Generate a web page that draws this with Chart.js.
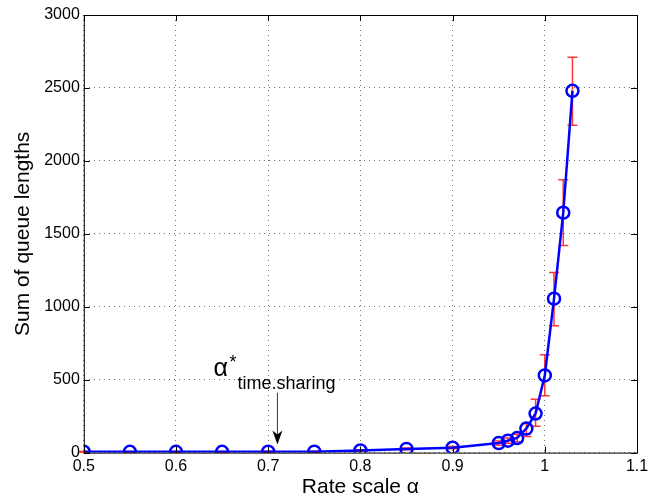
<!DOCTYPE html>
<html>
<head>
<meta charset="utf-8">
<script src="https://cdn.jsdelivr.net/npm/chart.js@4.4.1/dist/chart.umd.min.js"></script>
<style>
    html, body { margin: 0; padding: 0; background: #fff; }
    #wrap { width: 657px; height: 500px; position: relative; }
</style>
</head>
<body>
<div id="wrap"><canvas id="queueChart"></canvas></div>
<script>
// rate scale alpha (x) and mean sum of queue lengths (y)
const alphas = [0.5, 0.55, 0.6, 0.65, 0.7, 0.75, 0.8, 0.85, 0.9, 0.95, 0.96, 0.97, 0.98, 0.99, 1.0, 1.01, 1.02, 1.03];
const queueSums = [5, 5, 5, 5, 6, 6, 15, 25, 34, 65, 82, 100, 165, 268, 529, 1055, 1645, 2480];
// error bar ends
const errLow = [2, 2, 2, 2, 3, 3, 10, 19, 26, 50, 64, 75, 110, 180, 390, 870, 1420, 2245];
const errHigh = [8, 8, 8, 8, 9, 9, 20, 31, 42, 80, 100, 125, 200, 365, 670, 1235, 1870, 2710];
const xTicks = [0.5, 0.6, 0.7, 0.8, 0.9, 1, 1.1];
const yTicks = [0, 500, 1000, 1500, 2000, 2500, 3000];
// annotation arrow for alpha*_time.sharing
const arrowX = 0.71;
const arrowFrom = 410;
const arrowTo = 55;

const FONT = 'Liberation Sans, Arial, Helvetica, sans-serif';

// red error bars, drawn through the scales
const errorBars = {
    id: 'errorBars',
    beforeDatasetsDraw(chart) {
        const { ctx, scales: { x, y } } = chart;
        ctx.save();
        ctx.strokeStyle = 'rgba(255, 20, 20, 0.85)';
        ctx.lineWidth = 1.5;
        alphas.forEach((a, i) => {
            const px = x.getPixelForValue(a);
            const lo = y.getPixelForValue(errLow[i]);
            const hi = y.getPixelForValue(errHigh[i]);
            ctx.beginPath();
            ctx.moveTo(px, lo);
            ctx.lineTo(px, hi);
            ctx.moveTo(px - 5, lo);
            ctx.lineTo(px + 5, lo);
            ctx.moveTo(px - 5, hi);
            ctx.lineTo(px + 5, hi);
            ctx.stroke();
        });
        ctx.restore();
    },
};

// matlab style box with inward ticks
const boxTicks = {
    id: 'boxTicks',
    afterDraw(chart) {
        const { ctx, chartArea: a, scales: { x, y } } = chart;
        ctx.save();
        ctx.strokeStyle = '#000';
        ctx.lineWidth = 1;
        ctx.strokeRect(a.left + 0.5, a.top + 0.5, a.right - a.left, a.bottom - a.top);
        ctx.beginPath();
        xTicks.forEach(v => {
            const px = Math.round(x.getPixelForValue(v)) + 0.5;
            ctx.moveTo(px, a.bottom);
            ctx.lineTo(px, a.bottom - 6);
            ctx.moveTo(px, a.top);
            ctx.lineTo(px, a.top + 6);
        });
        yTicks.forEach(v => {
            const py = Math.round(y.getPixelForValue(v)) + 0.5;
            ctx.moveTo(a.left, py);
            ctx.lineTo(a.left + 6, py);
            ctx.moveTo(a.right, py);
            ctx.lineTo(a.right - 6, py);
        });
        ctx.stroke();

        // annotation
        const ax = x.getPixelForValue(arrowX);
        const y0 = y.getPixelForValue(arrowFrom);
        const y1 = y.getPixelForValue(arrowTo);
        ctx.strokeStyle = '#333';
        ctx.lineWidth = 1;
        ctx.beginPath();
        ctx.moveTo(ax, y0);
        ctx.lineTo(ax, y1 - 8);
        ctx.stroke();
        ctx.fillStyle = '#000';
        ctx.beginPath();
        ctx.moveTo(ax, y1);
        ctx.lineTo(ax - 5, y1 - 14);
        ctx.lineTo(ax, y1 - 10);
        ctx.lineTo(ax + 5, y1 - 14);
        ctx.closePath();
        ctx.fill();

        ctx.fillStyle = '#000';
        ctx.textBaseline = 'alphabetic';
        ctx.textAlign = 'left';
        ctx.font = '25px ' + FONT;
        ctx.fillText('\u03b1', ax - 64, y0 - 17);
        ctx.font = '18px ' + FONT;
        ctx.fillText('*', ax - 48, y0 - 25);
        ctx.fillText('time.sharing', ax - 40, y0 - 4);
        ctx.restore();
    },
};

new Chart(document.querySelector('#queueChart'), {
    type: 'line',
    data: {
        datasets: [
            {
                label: 'Sum of queue lengths',
                data: alphas.map((a, i) => ({ x: a, y: queueSums[i] })),
                borderColor: '#0000ff',
                borderWidth: 2.5,
                pointRadius: 6,
                pointBorderWidth: 2.5,
                pointBackgroundColor: 'rgba(0,0,0,0)',
                pointBorderColor: '#0000ff',
                tension: 0,
            },
        ],
    },
    options: {
        responsive: true,
        maintainAspectRatio: false,
        animation: false,
        layout: { padding: { left: 11, right: 20, top: 15, bottom: 0 } },
        plugins: { legend: { display: false }, tooltip: { enabled: false } },
        scales: {
            x: {
                type: 'linear',
                min: 0.5,
                max: 1.1,
                afterBuildTicks: axis => { axis.ticks = xTicks.map(v => ({ value: v })); },
                ticks: {
                    font: { family: FONT, size: 16 },
                    color: '#000',
                    padding: 4,
                    maxRotation: 0,
                    callback: v => String(Math.round(v * 10) / 10),
                },
                grid: { color: 'rgba(0,0,0,0.55)', drawTicks: false },
                border: { display: false, dash: [1, 4] },
                title: { display: true, text: 'Rate scale \u03b1', font: { family: FONT, size: 21 }, color: '#000', padding: { top: -5, bottom: 0 } },
            },
            y: {
                min: 0,
                max: 3000,
                afterBuildTicks: axis => { axis.ticks = yTicks.map(v => ({ value: v })); },
                ticks: {
                    font: { family: FONT, size: 16 },
                    color: '#000',
                    padding: 4,
                    callback: v => String(v),
                },
                grid: { color: 'rgba(0,0,0,0.55)', drawTicks: false },
                border: { display: false, dash: [1, 4] },
                title: { display: true, text: 'Sum of queue lengths', font: { family: FONT, size: 21 }, color: '#000', padding: { top: 0, bottom: 4 } },
            },
        },
    },
    plugins: [errorBars, boxTicks],
});
</script>
</body>
</html>
